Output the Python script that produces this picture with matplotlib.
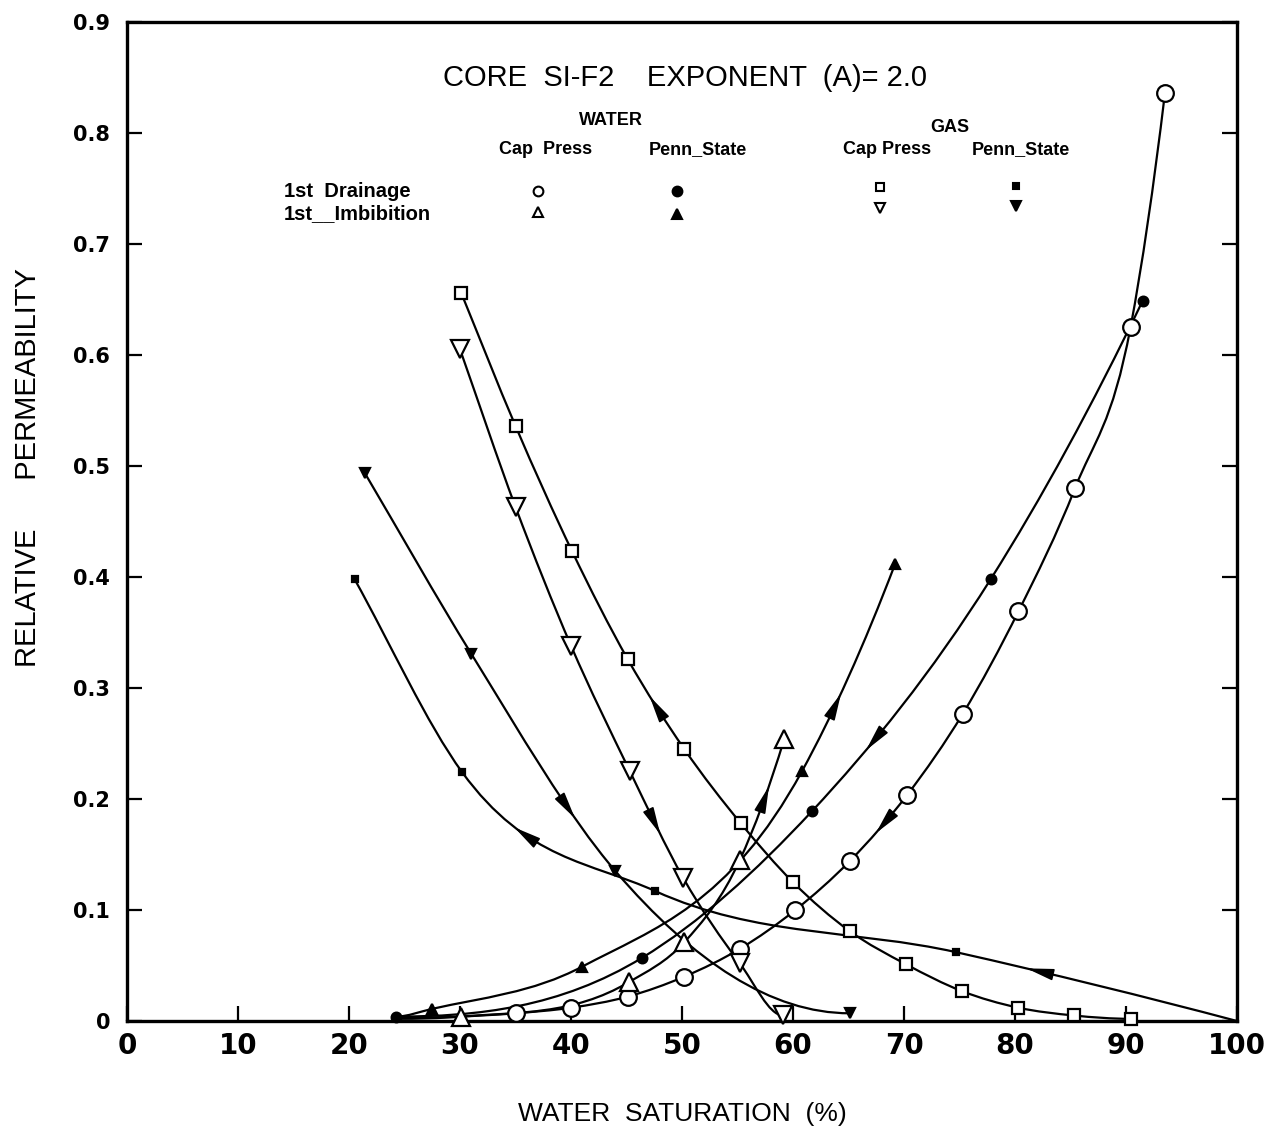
import numpy as np
import matplotlib
matplotlib.use('Agg')
import matplotlib.pyplot as plt
from matplotlib.path import Path
from matplotlib.patches import PathPatch

# Water saturation (%) / relative permeability
# water, capillary pressure, 1st drainage (open circles)
sw_wcp_dr = [24.2, 35.0, 40.0, 45.1, 50.2, 55.2, 60.2, 65.1, 70.3, 75.3, 80.3, 85.4, 90.4, 93.5]
kr_wcp_dr = [0.003, 0.007, 0.012, 0.022, 0.040, 0.065, 0.100, 0.144, 0.204, 0.277, 0.369, 0.480, 0.625, 0.836]
# water, Penn State, 1st drainage (filled circles)
sw_wps_dr = [24.2, 46.4, 61.7, 77.8, 91.5]
kr_wps_dr = [0.004, 0.057, 0.189, 0.398, 0.649]
# water, capillary pressure, 1st imbibition (open triangles)
sw_wcp_im = [24.2, 30.1, 45.2, 50.2, 55.2, 59.2]
kr_wcp_im = [0.002, 0.004, 0.035, 0.071, 0.145, 0.254]
# water, Penn State, 1st imbibition (filled triangles)
sw_wps_im = [24.2, 27.5, 41.0, 60.8, 69.2]
kr_wps_im = [0.004, 0.011, 0.049, 0.225, 0.412]
# gas, capillary pressure, 1st drainage (open squares)
sw_gcp_dr = [30.1, 35.0, 40.1, 45.1, 50.2, 55.3, 60.0, 65.1, 70.2, 75.2, 80.3, 85.3, 90.4]
kr_gcp_dr = [0.656, 0.536, 0.423, 0.326, 0.245, 0.178, 0.125, 0.081, 0.051, 0.027, 0.012, 0.005, 0.002]
# gas, Penn State, 1st drainage (filled squares)
sw_gps_dr = [20.5, 30.2, 47.6, 74.7, 100.0]
kr_gps_dr = [0.398, 0.224, 0.117, 0.062, 0.0]
# gas, capillary pressure, 1st imbibition (open inverted triangles)
sw_gcp_im = [30.0, 35.0, 40.0, 45.3, 50.1, 55.2, 59.1]
kr_gcp_im = [0.605, 0.463, 0.338, 0.225, 0.129, 0.052, 0.005]
# gas, Penn State, 1st imbibition (filled inverted triangles)
sw_gps_im = [21.4, 31.0, 44.0, 65.1]
kr_gps_im = [0.494, 0.331, 0.135, 0.007]

# flow-direction arrows: (series, water saturation, +1 towards higher Sw / -1 lower)
arrows = [
    ('gps_dr', 35.7, -1),
    ('gps_im', 39.8, 1),
    ('gcp_im', 47.6, 1),
    ('gcp_dr', 47.6, -1),
    ('wcp_im', 57.5, 1),
    ('wps_im', 63.9, 1),
    ('wps_dr', 67.2, -1),
    ('wcp_dr', 68.1, -1),
    ('gps_dr', 82.0, -1),
]

x_ticks = [0, 10, 20, 30, 40, 50, 60, 70, 80, 90, 100]
y_ticks = [0, 0.1, 0.2, 0.3, 0.4, 0.5, 0.6, 0.7, 0.8, 0.9]
y_tick_labels = ['0', '0.1', '0.2', '0.3', '0.4', '0.5', '0.6', '0.7', '0.8', '0.9']

LETTER = ['Liberation Sans', 'DejaVu Sans']
BOLD = ['DejaVu Sans']


def slopes(xs, ys, flat_start=False, flat_end=False):
    x = np.asarray(xs, float)
    y = np.asarray(ys, float)
    n = len(x)
    h = np.diff(x)
    s = np.diff(y) / h
    m = np.zeros(n)
    # three-point (parabolic) derivative for uneven spacing
    for i in range(1, n - 1):
        m[i] = (h[i] * s[i - 1] + h[i - 1] * s[i]) / (h[i - 1] + h[i])
    m[0] = 0.0 if flat_start else s[0]
    m[-1] = 0.0 if flat_end else (2 * s[-1] - m[-2] if n > 2 else s[-1])
    return x, y, m


def smooth_curve(ax, xs, ys, flat_start=False, flat_end=False, lw=1.6):
    # cubic Hermite through the points, drawn as Bezier segments
    x, y, m = slopes(xs, ys, flat_start, flat_end)
    verts = [(x[0], y[0])]
    codes = [Path.MOVETO]
    for i in range(len(x) - 1):
        h = (x[i + 1] - x[i]) / 3.0
        verts += [(x[i] + h, y[i] + m[i] * h), (x[i + 1] - h, y[i + 1] - m[i + 1] * h),
                  (x[i + 1], y[i + 1])]
        codes += [Path.CURVE4] * 3
    ax.add_patch(PathPatch(Path(verts, codes), fc='none', ec='black', lw=lw, zorder=2))


def point_on(xs, ys, flat_start, flat_end, xq):
    x, y, m = slopes(xs, ys, flat_start, flat_end)
    i = int(np.clip(np.searchsorted(x, xq) - 1, 0, len(x) - 2))
    d = x[i + 1] - x[i]
    t = (xq - x[i]) / d
    yq = ((2 * t**3 - 3 * t**2 + 1) * y[i] + (t**3 - 2 * t**2 + t) * d * m[i]
          + (-2 * t**3 + 3 * t**2) * y[i + 1] + (t**3 - t**2) * d * m[i + 1])
    dy = ((6 * t**2 - 6 * t) * y[i] + (3 * t**2 - 4 * t + 1) * d * m[i]
          + (-6 * t**2 + 6 * t) * y[i + 1] + (3 * t**2 - 2 * t) * d * m[i + 1]) / d
    return yq, dy


fig = plt.figure(figsize=(12.78, 11.43), dpi=100)
ax = fig.add_axes([0.0994, 0.1067, 0.8686, 0.8741])
ax.set_xlim(0, 100)
ax.set_ylim(0, 0.9)

# key: (x, y, marker, face, size, first marked point, flat start, flat end)
series = {
    'wcp_dr': (sw_wcp_dr, kr_wcp_dr, 'o', 'white', 12, 1, True, False),
    'wps_dr': (sw_wps_dr, kr_wps_dr, 'o', 'black', 7, 0, True, False),
    'wcp_im': (sw_wcp_im, kr_wcp_im, '^', 'white', 12.5, 1, True, False),
    'wps_im': (sw_wps_im, kr_wps_im, '^', 'black', 7, 1, True, False),
    'gcp_dr': (sw_gcp_dr, kr_gcp_dr, 's', 'white', 9, 0, False, True),
    'gps_dr': (sw_gps_dr, kr_gps_dr, 's', 'black', 5, 0, False, False),
    'gcp_im': (sw_gcp_im, kr_gcp_im, 'v', 'white', 12.5, 0, False, True),
    'gps_im': (sw_gps_im, kr_gps_im, 'v', 'black', 7, 0, False, True),
}
for key, (xs, ys, mk, fc, ms, first, fs, fe) in series.items():
    smooth_curve(ax, xs, ys, fs, fe)
    end = len(xs) - 1 if xs[-1] >= 100 else len(xs)
    ax.plot(xs[first:end], ys[first:end], ls='none', marker=mk, mfc=fc, mec='black',
            ms=ms, mew=1.6, zorder=3, clip_on=False)

# arrowheads along the curves
for key, xq, sgn in arrows:
    xs, ys, _, _, _, _, fs, fe = series[key]
    yq, dy = point_on(xs, ys, fs, fe, xq)
    p0 = ax.transData.transform((xq, yq))
    p1 = ax.transData.transform((xq + 1.0, yq + dy))
    v = (p1 - p0) / np.hypot(*(p1 - p0)) * sgn
    tip = ax.transData.inverted().transform(p0 + v * 11)
    ax.annotate('', xy=tip, xytext=(-v[0] * 24, -v[1] * 24), textcoords='offset pixels',
                arrowprops=dict(arrowstyle='-|>,head_length=1.5,head_width=0.32',
                                mutation_scale=11, color='black', lw=1.2,
                                shrinkA=0, shrinkB=0),
                zorder=4)

# spines and ticks
for s in ax.spines.values():
    s.set_linewidth(2.4)
ax.tick_params(axis='both', direction='in', length=11, width=1.6,
               left=True, right=True, bottom=True, top=False)
ax.tick_params(axis='y', pad=12)
ax.tick_params(axis='x', pad=8)
ax.set_xticks(x_ticks)
ax.set_xticklabels([str(t) for t in x_ticks], fontsize=20, fontweight='bold', family=BOLD)
ax.set_yticks(y_ticks)
ax.set_yticklabels(y_tick_labels, fontsize=15, fontweight='bold', family=BOLD)

ax.set_xlabel('WATER  SATURATION  (%)', fontsize=19, family=LETTER, labelpad=30)
ax.set_ylabel('RELATIVE      PERMEABILITY', fontsize=21, family=LETTER)
ax.yaxis.set_label_coords(-0.0766, 0.554)

# title and legend table
ax.text(0.503, 0.944, 'CORE  SI-F2    EXPONENT  (A)= 2.0', transform=ax.transAxes,
        ha='center', va='center', fontsize=21, family=LETTER)
ax.text(0.436, 0.901, 'WATER', transform=ax.transAxes, ha='center', va='center',
        fontsize=13, fontweight='bold', family=LETTER)
ax.text(0.741, 0.894, 'GAS', transform=ax.transAxes, ha='center', va='center',
        fontsize=13, fontweight='bold', family=LETTER)
for xc, label in [(0.377, 'Cap  Press'), (0.514, 'Penn_State'),
                  (0.685, 'Cap Press'), (0.805, 'Penn_State')]:
    ax.text(xc, 0.872, label, transform=ax.transAxes, ha='center', va='center',
            fontsize=13, fontweight='bold', family=LETTER)
ax.text(0.141, 0.830, '1st  Drainage', transform=ax.transAxes, ha='left', va='center',
        fontsize=14.5, fontweight='bold', family=LETTER)
ax.text(0.141, 0.808, '1st__Imbibition', transform=ax.transAxes, ha='left', va='center',
        fontsize=14.5, fontweight='bold', family=LETTER)

legend_marks = [
    (0.370, 0.831, 'o', 'white', 7), (0.495, 0.831, 'o', 'black', 7),
    (0.678, 0.835, 's', 'white', 6), (0.801, 0.836, 's', 'black', 4),
    (0.370, 0.810, '^', 'white', 7), (0.495, 0.808, '^', 'black', 7),
    (0.678, 0.814, 'v', 'white', 7), (0.801, 0.816, 'v', 'black', 7),
]
for xm, ym, mk, fc, ms in legend_marks:
    ax.plot([xm], [ym], transform=ax.transAxes, marker=mk, mfc=fc, mec='black',
            ms=ms, mew=1.5, ls='none')

fig.savefig('out.png', dpi=100)
